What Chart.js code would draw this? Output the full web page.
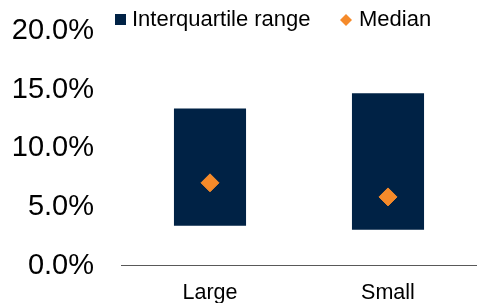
<!DOCTYPE html>
<html lang="en">
<head>
    <meta charset="UTF-8">
    <title>Interquartile range and median</title>
    <script src="https://cdn.jsdelivr.net/npm/chart.js"></script>
    <style>
        html, body { margin: 0; padding: 0; background: #fff; overflow: hidden; }
        #wrap { width: 477px; height: 303px; }
    </style>
</head>
<body>
    <div id="wrap"><canvas id="iqrChart"></canvas></div>

    <script>
        // data
        const categories = ['Large', 'Small'];
        const quartileLow = [3.4, 3.05];
        const quartileHigh = [13.4, 14.7];
        const medians = [7.05, 5.85];
        const yTicks = [0, 5, 10, 15, 20];

        const NAVY = '#002245';
        const ORANGE = '#F58A2A';
        const FONT = 'Liberation Sans, Arial, sans-serif';

        // small hand-drawn legend so the spacing matches the original
        const legendPlugin = {
            id: 'iqrLegend',
            afterDraw(chart) {
                const ctx = chart.ctx;
                const ds = chart.data.datasets;
                ctx.save();
                ctx.font = '22px ' + FONT;
                ctx.textBaseline = 'alphabetic';

                // interquartile range: filled square
                ctx.fillStyle = ds[0].backgroundColor;
                ctx.fillRect(115, 14, 11, 11);
                ctx.fillStyle = '#000';
                ctx.fillText(ds[0].label, 132, 26);

                // median: diamond
                const cx = 346, cy = 20, r = 6;
                ctx.fillStyle = ds[1].pointBackgroundColor;
                ctx.beginPath();
                ctx.moveTo(cx - r, cy);
                ctx.lineTo(cx, cy - r);
                ctx.lineTo(cx + r, cy);
                ctx.lineTo(cx, cy + r);
                ctx.closePath();
                ctx.fill();
                ctx.fillStyle = '#000';
                ctx.fillText(ds[1].label, 359, 26);
                ctx.restore();
            }
        };

        new Chart(document.getElementById('iqrChart').getContext('2d'), {
            data: {
                labels: categories,
                datasets: [
                    {
                        type: 'bar',
                        label: 'Interquartile range',
                        data: categories.map((c, i) => [quartileLow[i], quartileHigh[i]]),
                        backgroundColor: NAVY,
                        borderWidth: 0,
                        barPercentage: 0.405,
                        categoryPercentage: 1.0,
                        order: 2
                    },
                    {
                        type: 'line',
                        label: 'Median',
                        data: medians,
                        showLine: false,
                        pointStyle: 'rectRot',
                        pointRadius: 9,
                        pointHoverRadius: 9,
                        pointBackgroundColor: ORANGE,
                        pointBorderColor: ORANGE,
                        pointBorderWidth: 1,
                        order: 1
                    }
                ]
            },
            options: {
                responsive: true,
                maintainAspectRatio: false,
                animation: false,
                layout: {
                    autoPadding: false,
                    padding: { left: 12, top: 31, right: 0, bottom: 0 }
                },
                plugins: {
                    legend: { display: false },
                    tooltip: { enabled: false }
                },
                scales: {
                    x: {
                        grid: { display: false, drawTicks: false },
                        border: { display: true, color: '#595959', width: 1 },
                        afterFit: (scale) => {
                            scale.height = 37.5;
                        },
                        ticks: {
                            color: '#000',
                            padding: 15,
                            font: { family: FONT, size: 21.5 }
                        }
                    },
                    y: {
                        min: yTicks[0],
                        max: yTicks[yTicks.length - 1],
                        afterBuildTicks: (scale) => {
                            scale.ticks = yTicks.map(v => ({ value: v }));
                        },
                        afterFit: (scale) => {
                            scale.width = 109;
                            // labels may overhang the plot; the padding above handles room
                            scale.paddingTop = 0;
                            scale.paddingBottom = 0;
                        },
                        grid: { display: false, drawTicks: false },
                        border: { display: false },
                        ticks: {
                            color: '#000',
                            padding: 27,
                            font: { family: FONT, size: 29 },
                            callback: (v) => v.toFixed(1) + '%'
                        }
                    }
                }
            },
            plugins: [legendPlugin]
        });
    </script>
</body>
</html>
